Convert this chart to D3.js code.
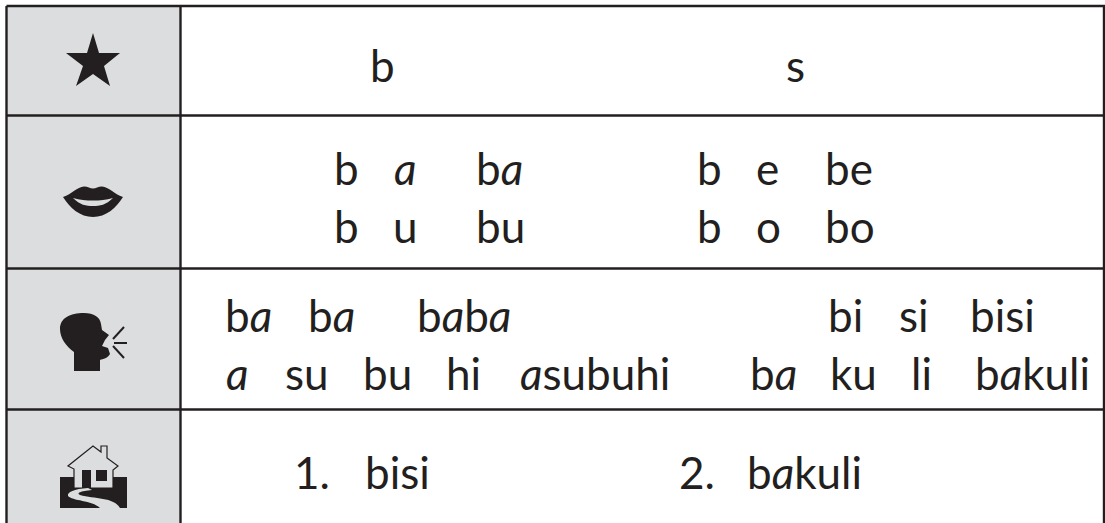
<!DOCTYPE html>
<html>
<head>
<meta charset="utf-8">
<script src="https://cdn.jsdelivr.net/npm/d3@7"></script>
<style>
  html, body { margin: 0; padding: 0; background: #fff; }
  text { font-family: "Lato", sans-serif; font-size: 44px; fill: #231f20; }
</style>
</head>
<body>
<div id="chart"></div>
<script>
var rowNames = ["star", "lips", "speak", "home"];
var words = [
	["b", "s"],
	["b", "a", "ba", "b", "e", "be"],
	["b", "u", "bu", "b", "o", "bo"],
	["ba", "ba", "baba", "bi", "si", "bisi"],
	["a", "su", "bu", "hi", "asubuhi", "ba", "ku", "li", "bakuli"],
	["1.", "bisi", "2.", "bakuli"]
];

// layout only: where each word starts, and its baseline
var wordX = [
	[370, 786],
	[334, 394, 476, 697, 756, 825],
	[334, 393, 476, 697, 756, 825],
	[225, 308, 417, 828, 899, 970],
	[226, 285, 363, 446, 520, 750, 830, 911, 975],
	[294, 365, 679, 747]
];
var baselines = [82, 185, 243, 332, 390, 489];
var rowEdges = [6, 115.5, 268.5, 409.5, 523];

var width = 1105, height = 523;
var colLeft = 6.5, colMid = 180.5, colRight = 1104;
var ink = "#231f20";

var svg = d3.select("#chart").append("svg")
	.attr("width", width)
	.attr("height", height)
	.style("display", "block");

// grey icon column
svg.append("rect")
	.attr("x", colLeft)
	.attr("y", rowEdges[0])
	.attr("width", colMid - colLeft)
	.attr("height", height - rowEdges[0])
	.attr("fill", "#dcddde");

// grid lines
svg.selectAll(".hline")
	.data(rowEdges.slice(0, 4))
	.enter()
	.append("line")
	.attr("class", "hline")
	.attr("x1", colLeft)
	.attr("x2", colRight + 1)
	.attr("y1", function(d) { return d; })
	.attr("y2", function(d) { return d; })
	.attr("stroke", ink)
	.attr("stroke-width", 2.4);

svg.selectAll(".vline")
	.data([colLeft, colMid, colRight])
	.enter()
	.append("line")
	.attr("class", "vline")
	.attr("x1", function(d) { return d; })
	.attr("x2", function(d) { return d; })
	.attr("y1", rowEdges[0])
	.attr("y2", height)
	.attr("stroke", ink)
	.attr("stroke-width", 2.4);

// words, the single storey a comes from the italic face
words.forEach(function(line, r) {
	var t = svg.selectAll(".line" + r)
		.data(line)
		.enter()
		.append("text")
		.attr("class", "line" + r)
		.attr("x", function(d, i) { return wordX[r][i]; })
		.attr("y", baselines[r]);

	t.each(function(d) {
		var el = d3.select(this);
		d.split(/(a)/).filter(function(s) { return s.length; }).forEach(function(s) {
			el.append("tspan")
				.attr("font-style", s == "a" ? "italic" : "normal")
				.text(s);
		});
	});
});

// icons
var icons = svg.append("g").attr("class", "icons").attr("fill", ink);

icons.append("path")
	.attr("class", rowNames[0])
	.attr("d", "M93 33 L99 53 L120 53 L104 66 L110 86 L93 74 L76 86 L83 66 L66 53 L87 53 Z");

icons.append("path")
	.attr("class", rowNames[1])
	.attr("fill-rule", "evenodd")
	.attr("d", "M63 197 C72 194 77 187 84 186.5 C88 186.5 90 188.5 93 188.5 C96 188.5 98 186.5 102 186.5 C109 187 114 194 123 197 C116 208 106 217 93 217 C80 217 70 208 63 197 Z " +
		"M73 198 C80 205 86 206 93 206 C100 206 106 205 113 198 C106 200 100 200.5 93 200.5 C86 200.5 80 200 73 198 Z");

icons.append("path")
	.attr("class", rowNames[2])
	.attr("d", "M74 371 L74 352 C66 346 60 338 60 329 C60 318 70 313 84 313 C94 313 100 317 101 324 L102 330 L109 335 L105 340 L102 346 L108 348 L110 354 C108 358 103 359 100 360 L100 371 Z");

icons.append("g")
	.attr("class", rowNames[2])
	.attr("stroke", ink)
	.attr("stroke-width", 2)
	.selectAll("line")
	.data([[113, 339, 124, 327], [114, 343, 127, 343], [113, 346, 124, 358]])
	.enter()
	.append("line")
	.attr("x1", function(d) { return d[0]; })
	.attr("y1", function(d) { return d[1]; })
	.attr("x2", function(d) { return d[2]; })
	.attr("y2", function(d) { return d[3]; });

var house = icons.append("g").attr("class", rowNames[3]);
house.append("path")
	.attr("d", "M60 477 L60 508 L127 508 L127 477 Z");
house.append("path")
	.attr("fill", "#dcddde")
	.attr("stroke", ink)
	.attr("stroke-width", 1.2)
	.attr("d", "M74 488 L74 469 L68 466 L93 446 L101 452 L101 446 L107 446 L107 458 L118 466 L113 470 L113 488 Z");
house.append("rect").attr("x", 82).attr("y", 470).attr("width", 9).attr("height", 18);
house.append("rect").attr("x", 96).attr("y", 470).attr("width", 11).attr("height", 11);
house.append("path")
	.attr("fill", "#dcddde")
	.attr("d", "M88 488 C74 489 67 492 68 496 C72 501 92 500 100 508 L120 508 C114 497 94 499 80 495 C76 493 80 491 92 490 Z");
</script>
</body>
</html>
